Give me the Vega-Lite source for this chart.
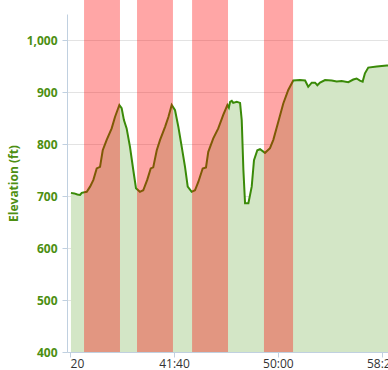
{
  "$schema": "https://vega.github.io/schema/vega-lite/v6.json",
  "width": 321,
  "height": 338,
  "autosize": {"type": "none"},
  "padding": {"left": 67, "top": 14, "right": 0, "bottom": 18},
  "background": "white",
  "config": {"view": {"stroke": null}, "font": "Open Sans"},
  "datasets": {
    "elev": [
      {"t": 2004, "ft": 706}, {"t": 2020, "ft": 705}, {"t": 2035, "ft": 703}, {"t": 2048, "ft": 702},
      {"t": 2056, "ft": 706}, {"t": 2080, "ft": 708}, {"t": 2096, "ft": 718}, {"t": 2112, "ft": 731},
      {"t": 2128, "ft": 753}, {"t": 2144, "ft": 756}, {"t": 2157, "ft": 788}, {"t": 2176, "ft": 808},
      {"t": 2200, "ft": 830}, {"t": 2216, "ft": 852}, {"t": 2237, "ft": 875}, {"t": 2248, "ft": 869},
      {"t": 2259, "ft": 846}, {"t": 2272, "ft": 830}, {"t": 2288, "ft": 795}, {"t": 2304, "ft": 750},
      {"t": 2317, "ft": 715}, {"t": 2336, "ft": 708}, {"t": 2352, "ft": 711}, {"t": 2371, "ft": 731},
      {"t": 2388, "ft": 753}, {"t": 2400, "ft": 755}, {"t": 2417, "ft": 788}, {"t": 2433, "ft": 808},
      {"t": 2457, "ft": 833}, {"t": 2473, "ft": 852}, {"t": 2489, "ft": 875}, {"t": 2505, "ft": 865},
      {"t": 2521, "ft": 833}, {"t": 2537, "ft": 795}, {"t": 2553, "ft": 756}, {"t": 2566, "ft": 718},
      {"t": 2585, "ft": 708}, {"t": 2601, "ft": 711}, {"t": 2617, "ft": 727}, {"t": 2638, "ft": 753},
      {"t": 2654, "ft": 755}, {"t": 2665, "ft": 785}, {"t": 2689, "ft": 811}, {"t": 2713, "ft": 830},
      {"t": 2737, "ft": 856}, {"t": 2757, "ft": 875}, {"t": 2764, "ft": 870}, {"t": 2770, "ft": 881},
      {"t": 2778, "ft": 883}, {"t": 2785, "ft": 879}, {"t": 2802, "ft": 881}, {"t": 2818, "ft": 879},
      {"t": 2826, "ft": 846}, {"t": 2834, "ft": 750}, {"t": 2842, "ft": 686}, {"t": 2858, "ft": 686},
      {"t": 2874, "ft": 718}, {"t": 2885, "ft": 769}, {"t": 2901, "ft": 788}, {"t": 2914, "ft": 790},
      {"t": 2938, "ft": 783}, {"t": 2962, "ft": 792}, {"t": 2978, "ft": 808}, {"t": 3002, "ft": 843},
      {"t": 3026, "ft": 878}, {"t": 3050, "ft": 904}, {"t": 3074, "ft": 922}, {"t": 3106, "ft": 923},
      {"t": 3131, "ft": 922}, {"t": 3146, "ft": 910}, {"t": 3163, "ft": 918}, {"t": 3179, "ft": 918},
      {"t": 3190, "ft": 913}, {"t": 3203, "ft": 918}, {"t": 3227, "ft": 923}, {"t": 3259, "ft": 922},
      {"t": 3283, "ft": 920}, {"t": 3307, "ft": 921}, {"t": 3339, "ft": 919}, {"t": 3363, "ft": 924},
      {"t": 3379, "ft": 926}, {"t": 3395, "ft": 922}, {"t": 3408, "ft": 920}, {"t": 3419, "ft": 936},
      {"t": 3435, "ft": 947}, {"t": 3476, "ft": 949}, {"t": 3524, "ft": 951}, {"t": 3530, "ft": 951}
    ],
    "bands": [
      {"start": 2067, "end": 2240},
      {"start": 2322, "end": 2495},
      {"start": 2587, "end": 2760},
      {"start": 2933, "end": 3073}
    ]
  },
  "layer": [
    {
      "data": {"name": "elev"},
      "mark": {"type": "area", "color": "#d3e6c6", "opacity": 1},
      "encoding": {
        "x": {
          "field": "t", "type": "quantitative",
          "scale": {"domain": [1985, 3530], "nice": false, "zero": false},
          "axis": {
            "values": [2000, 2500, 3000, 3500],
            "labelExpr": "datum.value == 2000 ? '20' : floor(datum.value/60) + ':' + (datum.value % 60 < 10 ? '0' : '') + (datum.value % 60)",
            "labelAlign": {"expr": "datum.value == 2000 ? 'left' : 'center'"},
            "labelFontSize": 12,
            "labelColor": "#333333",
            "labelFont": "Open Sans",
            "labelPadding": 1,
            "tickSize": 5,
            "tickColor": "#c0d0e0",
            "domainColor": "#c0d0e0",
            "grid": false,
            "title": null
          }
        },
        "y": {
          "field": "ft", "type": "quantitative",
          "scale": {"domain": [400, 1050], "nice": false, "zero": false},
          "axis": {
            "values": [400, 500, 600, 700, 800, 900, 1000],
            "format": ",d",
            "labelFontSize": 12,
            "labelFontWeight": "bold",
            "labelColor": "#4d8f12",
            "labelFont": "Open Sans",
            "labelPadding": 5,
            "tickSize": 5,
            "tickColor": "#c0d0e0",
            "domainColor": "#c0d0e0",
            "gridColor": "#e3e3e3",
            "title": "Elevation (ft)",
            "titleFontSize": 12,
            "titleFontWeight": "bold",
            "titleColor": "#4d8f12",
            "titleFont": "Open Sans",
            "titlePadding": 6
          }
        },
        "y2": {"datum": 400}
      }
    },
    {
      "data": {"name": "elev"},
      "mark": {"type": "line", "color": "#3a8a08", "strokeWidth": 2},
      "encoding": {
        "x": {"field": "t", "type": "quantitative"},
        "y": {"field": "ft", "type": "quantitative"}
      }
    },
    {
      "data": {"name": "bands"},
      "mark": {"type": "rect", "color": "#ff0000", "opacity": 0.35},
      "encoding": {
        "x": {"field": "start", "type": "quantitative"},
        "x2": {"field": "end"},
        "y": {"datum": 400},
        "y2": {"datum": 1077}
      }
    }
  ]
}
